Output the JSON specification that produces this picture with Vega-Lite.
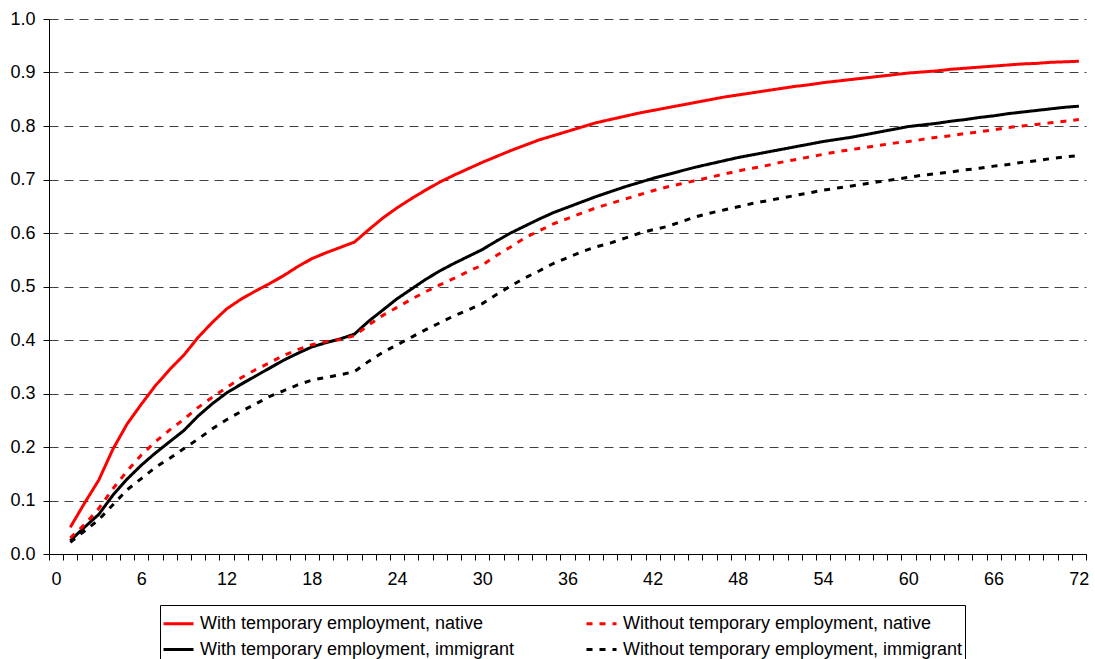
{
"$schema":"https://vega.github.io/schema/vega-lite/v6.json",
"width":1037,"height":535,
"autosize":{"type":"none"},
"padding":{"left":49,"top":19,"right":9,"bottom":105},
"background":"white",
"config":{"view":{"stroke":null},
"axis":{"labelFont":"Liberation Sans","labelFontSize":18,"labelColor":"black","tickColor":"black","domainColor":"black","tickSize":6,"domainWidth":1,"tickWidth":1,"titleFont":"Liberation Sans"},
"legend":{"labelFont":"Liberation Sans","labelFontSize":18,"labelColor":"black","labelLimit":0}},
"data":{"values":[
{"m":1,"s":"With temporary employment, native","v":0.050},{"m":2,"s":"With temporary employment, native","v":0.095},{"m":3,"s":"With temporary employment, native","v":0.138},{"m":4,"s":"With temporary employment, native","v":0.196},{"m":5,"s":"With temporary employment, native","v":0.243},{"m":6,"s":"With temporary employment, native","v":0.280},{"m":7,"s":"With temporary employment, native","v":0.315},{"m":8,"s":"With temporary employment, native","v":0.345},{"m":9,"s":"With temporary employment, native","v":0.372},{"m":10,"s":"With temporary employment, native","v":0.405},
{"m":11,"s":"With temporary employment, native","v":0.433},{"m":12,"s":"With temporary employment, native","v":0.458},{"m":13,"s":"With temporary employment, native","v":0.476},{"m":14,"s":"With temporary employment, native","v":0.491},{"m":15,"s":"With temporary employment, native","v":0.505},{"m":16,"s":"With temporary employment, native","v":0.520},{"m":17,"s":"With temporary employment, native","v":0.537},{"m":18,"s":"With temporary employment, native","v":0.552},{"m":19,"s":"With temporary employment, native","v":0.563},{"m":20,"s":"With temporary employment, native","v":0.573},
{"m":21,"s":"With temporary employment, native","v":0.583},{"m":22,"s":"With temporary employment, native","v":0.606},{"m":23,"s":"With temporary employment, native","v":0.628},{"m":24,"s":"With temporary employment, native","v":0.647},{"m":25,"s":"With temporary employment, native","v":0.664},{"m":26,"s":"With temporary employment, native","v":0.680},{"m":27,"s":"With temporary employment, native","v":0.695},{"m":28,"s":"With temporary employment, native","v":0.708},{"m":29,"s":"With temporary employment, native","v":0.720},{"m":30,"s":"With temporary employment, native","v":0.732},
{"m":31,"s":"With temporary employment, native","v":0.743},{"m":32,"s":"With temporary employment, native","v":0.754},{"m":33,"s":"With temporary employment, native","v":0.764},{"m":34,"s":"With temporary employment, native","v":0.774},{"m":35,"s":"With temporary employment, native","v":0.782},{"m":36,"s":"With temporary employment, native","v":0.790},{"m":37,"s":"With temporary employment, native","v":0.798},{"m":38,"s":"With temporary employment, native","v":0.806},{"m":39,"s":"With temporary employment, native","v":0.812},{"m":40,"s":"With temporary employment, native","v":0.818},
{"m":41,"s":"With temporary employment, native","v":0.824},{"m":42,"s":"With temporary employment, native","v":0.829},{"m":43,"s":"With temporary employment, native","v":0.834},{"m":44,"s":"With temporary employment, native","v":0.839},{"m":45,"s":"With temporary employment, native","v":0.844},{"m":46,"s":"With temporary employment, native","v":0.849},{"m":47,"s":"With temporary employment, native","v":0.854},{"m":48,"s":"With temporary employment, native","v":0.858},{"m":49,"s":"With temporary employment, native","v":0.862},{"m":50,"s":"With temporary employment, native","v":0.866},
{"m":51,"s":"With temporary employment, native","v":0.870},{"m":52,"s":"With temporary employment, native","v":0.874},{"m":53,"s":"With temporary employment, native","v":0.877},{"m":54,"s":"With temporary employment, native","v":0.881},{"m":55,"s":"With temporary employment, native","v":0.884},{"m":56,"s":"With temporary employment, native","v":0.887},{"m":57,"s":"With temporary employment, native","v":0.890},{"m":58,"s":"With temporary employment, native","v":0.893},{"m":59,"s":"With temporary employment, native","v":0.896},{"m":60,"s":"With temporary employment, native","v":0.899},
{"m":61,"s":"With temporary employment, native","v":0.901},{"m":62,"s":"With temporary employment, native","v":0.903},{"m":63,"s":"With temporary employment, native","v":0.906},{"m":64,"s":"With temporary employment, native","v":0.908},{"m":65,"s":"With temporary employment, native","v":0.910},{"m":66,"s":"With temporary employment, native","v":0.912},{"m":67,"s":"With temporary employment, native","v":0.914},{"m":68,"s":"With temporary employment, native","v":0.916},{"m":69,"s":"With temporary employment, native","v":0.917},{"m":70,"s":"With temporary employment, native","v":0.919},
{"m":71,"s":"With temporary employment, native","v":0.920},{"m":72,"s":"With temporary employment, native","v":0.921},

{"m":1,"s":"With temporary employment, immigrant","v":0.025},{"m":2,"s":"With temporary employment, immigrant","v":0.050},{"m":3,"s":"With temporary employment, immigrant","v":0.074},{"m":4,"s":"With temporary employment, immigrant","v":0.110},{"m":5,"s":"With temporary employment, immigrant","v":0.140},{"m":6,"s":"With temporary employment, immigrant","v":0.166},{"m":7,"s":"With temporary employment, immigrant","v":0.189},{"m":8,"s":"With temporary employment, immigrant","v":0.210},{"m":9,"s":"With temporary employment, immigrant","v":0.231},{"m":10,"s":"With temporary employment, immigrant","v":0.258},
{"m":11,"s":"With temporary employment, immigrant","v":0.281},{"m":12,"s":"With temporary employment, immigrant","v":0.301},{"m":13,"s":"With temporary employment, immigrant","v":0.317},{"m":14,"s":"With temporary employment, immigrant","v":0.332},{"m":15,"s":"With temporary employment, immigrant","v":0.347},{"m":16,"s":"With temporary employment, immigrant","v":0.362},{"m":17,"s":"With temporary employment, immigrant","v":0.375},{"m":18,"s":"With temporary employment, immigrant","v":0.387},{"m":19,"s":"With temporary employment, immigrant","v":0.395},{"m":20,"s":"With temporary employment, immigrant","v":0.402},
{"m":21,"s":"With temporary employment, immigrant","v":0.411},{"m":22,"s":"With temporary employment, immigrant","v":0.435},{"m":23,"s":"With temporary employment, immigrant","v":0.456},{"m":24,"s":"With temporary employment, immigrant","v":0.477},{"m":25,"s":"With temporary employment, immigrant","v":0.495},{"m":26,"s":"With temporary employment, immigrant","v":0.513},{"m":27,"s":"With temporary employment, immigrant","v":0.529},{"m":28,"s":"With temporary employment, immigrant","v":0.543},{"m":29,"s":"With temporary employment, immigrant","v":0.556},{"m":30,"s":"With temporary employment, immigrant","v":0.569},
{"m":31,"s":"With temporary employment, immigrant","v":0.585},{"m":32,"s":"With temporary employment, immigrant","v":0.600},{"m":33,"s":"With temporary employment, immigrant","v":0.613},{"m":34,"s":"With temporary employment, immigrant","v":0.626},{"m":35,"s":"With temporary employment, immigrant","v":0.638},{"m":36,"s":"With temporary employment, immigrant","v":0.648},{"m":37,"s":"With temporary employment, immigrant","v":0.658},{"m":38,"s":"With temporary employment, immigrant","v":0.668},{"m":39,"s":"With temporary employment, immigrant","v":0.677},{"m":40,"s":"With temporary employment, immigrant","v":0.686},
{"m":41,"s":"With temporary employment, immigrant","v":0.694},{"m":42,"s":"With temporary employment, immigrant","v":0.702},{"m":43,"s":"With temporary employment, immigrant","v":0.709},{"m":44,"s":"With temporary employment, immigrant","v":0.716},{"m":45,"s":"With temporary employment, immigrant","v":0.723},{"m":46,"s":"With temporary employment, immigrant","v":0.729},{"m":47,"s":"With temporary employment, immigrant","v":0.735},{"m":48,"s":"With temporary employment, immigrant","v":0.741},{"m":49,"s":"With temporary employment, immigrant","v":0.746},{"m":50,"s":"With temporary employment, immigrant","v":0.751},
{"m":51,"s":"With temporary employment, immigrant","v":0.756},{"m":52,"s":"With temporary employment, immigrant","v":0.761},{"m":53,"s":"With temporary employment, immigrant","v":0.766},{"m":54,"s":"With temporary employment, immigrant","v":0.771},{"m":55,"s":"With temporary employment, immigrant","v":0.775},{"m":56,"s":"With temporary employment, immigrant","v":0.779},{"m":57,"s":"With temporary employment, immigrant","v":0.784},{"m":58,"s":"With temporary employment, immigrant","v":0.789},{"m":59,"s":"With temporary employment, immigrant","v":0.794},{"m":60,"s":"With temporary employment, immigrant","v":0.799},
{"m":61,"s":"With temporary employment, immigrant","v":0.802},{"m":62,"s":"With temporary employment, immigrant","v":0.805},{"m":63,"s":"With temporary employment, immigrant","v":0.809},{"m":64,"s":"With temporary employment, immigrant","v":0.812},{"m":65,"s":"With temporary employment, immigrant","v":0.816},{"m":66,"s":"With temporary employment, immigrant","v":0.819},{"m":67,"s":"With temporary employment, immigrant","v":0.823},{"m":68,"s":"With temporary employment, immigrant","v":0.826},{"m":69,"s":"With temporary employment, immigrant","v":0.829},{"m":70,"s":"With temporary employment, immigrant","v":0.832},
{"m":71,"s":"With temporary employment, immigrant","v":0.835},{"m":72,"s":"With temporary employment, immigrant","v":0.837},

{"m":1,"s":"Without temporary employment, native","v":0.030},{"m":2,"s":"Without temporary employment, native","v":0.055},{"m":3,"s":"Without temporary employment, native","v":0.085},{"m":4,"s":"Without temporary employment, native","v":0.122},{"m":5,"s":"Without temporary employment, native","v":0.155},{"m":6,"s":"Without temporary employment, native","v":0.185},{"m":7,"s":"Without temporary employment, native","v":0.210},{"m":8,"s":"Without temporary employment, native","v":0.232},{"m":9,"s":"Without temporary employment, native","v":0.252},{"m":10,"s":"Without temporary employment, native","v":0.274},
{"m":11,"s":"Without temporary employment, native","v":0.293},{"m":12,"s":"Without temporary employment, native","v":0.311},{"m":13,"s":"Without temporary employment, native","v":0.329},{"m":14,"s":"Without temporary employment, native","v":0.344},{"m":15,"s":"Without temporary employment, native","v":0.357},{"m":16,"s":"Without temporary employment, native","v":0.371},{"m":17,"s":"Without temporary employment, native","v":0.382},{"m":18,"s":"Without temporary employment, native","v":0.391},{"m":19,"s":"Without temporary employment, native","v":0.397},{"m":20,"s":"Without temporary employment, native","v":0.401},
{"m":21,"s":"Without temporary employment, native","v":0.408},{"m":22,"s":"Without temporary employment, native","v":0.428},{"m":23,"s":"Without temporary employment, native","v":0.446},{"m":24,"s":"Without temporary employment, native","v":0.461},{"m":25,"s":"Without temporary employment, native","v":0.476},{"m":26,"s":"Without temporary employment, native","v":0.490},{"m":27,"s":"Without temporary employment, native","v":0.503},{"m":28,"s":"Without temporary employment, native","v":0.515},{"m":29,"s":"Without temporary employment, native","v":0.528},{"m":30,"s":"Without temporary employment, native","v":0.540},
{"m":31,"s":"Without temporary employment, native","v":0.558},{"m":32,"s":"Without temporary employment, native","v":0.574},{"m":33,"s":"Without temporary employment, native","v":0.591},{"m":34,"s":"Without temporary employment, native","v":0.604},{"m":35,"s":"Without temporary employment, native","v":0.617},{"m":36,"s":"Without temporary employment, native","v":0.627},{"m":37,"s":"Without temporary employment, native","v":0.637},{"m":38,"s":"Without temporary employment, native","v":0.647},{"m":39,"s":"Without temporary employment, native","v":0.655},{"m":40,"s":"Without temporary employment, native","v":0.663},
{"m":41,"s":"Without temporary employment, native","v":0.671},{"m":42,"s":"Without temporary employment, native","v":0.679},{"m":43,"s":"Without temporary employment, native","v":0.686},{"m":44,"s":"Without temporary employment, native","v":0.692},{"m":45,"s":"Without temporary employment, native","v":0.698},{"m":46,"s":"Without temporary employment, native","v":0.704},{"m":47,"s":"Without temporary employment, native","v":0.710},{"m":48,"s":"Without temporary employment, native","v":0.716},{"m":49,"s":"Without temporary employment, native","v":0.721},{"m":50,"s":"Without temporary employment, native","v":0.726},
{"m":51,"s":"Without temporary employment, native","v":0.732},{"m":52,"s":"Without temporary employment, native","v":0.737},{"m":53,"s":"Without temporary employment, native","v":0.742},{"m":54,"s":"Without temporary employment, native","v":0.747},{"m":55,"s":"Without temporary employment, native","v":0.752},{"m":56,"s":"Without temporary employment, native","v":0.756},{"m":57,"s":"Without temporary employment, native","v":0.760},{"m":58,"s":"Without temporary employment, native","v":0.764},{"m":59,"s":"Without temporary employment, native","v":0.768},{"m":60,"s":"Without temporary employment, native","v":0.771},
{"m":61,"s":"Without temporary employment, native","v":0.775},{"m":62,"s":"Without temporary employment, native","v":0.779},{"m":63,"s":"Without temporary employment, native","v":0.782},{"m":64,"s":"Without temporary employment, native","v":0.786},{"m":65,"s":"Without temporary employment, native","v":0.789},{"m":66,"s":"Without temporary employment, native","v":0.793},{"m":67,"s":"Without temporary employment, native","v":0.797},{"m":68,"s":"Without temporary employment, native","v":0.800},{"m":69,"s":"Without temporary employment, native","v":0.803},{"m":70,"s":"Without temporary employment, native","v":0.806},
{"m":71,"s":"Without temporary employment, native","v":0.809},{"m":72,"s":"Without temporary employment, native","v":0.812},

{"m":1,"s":"Without temporary employment, immigrant","v":0.022},{"m":2,"s":"Without temporary employment, immigrant","v":0.043},{"m":3,"s":"Without temporary employment, immigrant","v":0.064},{"m":4,"s":"Without temporary employment, immigrant","v":0.092},{"m":5,"s":"Without temporary employment, immigrant","v":0.120},{"m":6,"s":"Without temporary employment, immigrant","v":0.141},{"m":7,"s":"Without temporary employment, immigrant","v":0.162},{"m":8,"s":"Without temporary employment, immigrant","v":0.179},{"m":9,"s":"Without temporary employment, immigrant","v":0.197},{"m":10,"s":"Without temporary employment, immigrant","v":0.215},
{"m":11,"s":"Without temporary employment, immigrant","v":0.234},{"m":12,"s":"Without temporary employment, immigrant","v":0.251},{"m":13,"s":"Without temporary employment, immigrant","v":0.266},{"m":14,"s":"Without temporary employment, immigrant","v":0.280},{"m":15,"s":"Without temporary employment, immigrant","v":0.294},{"m":16,"s":"Without temporary employment, immigrant","v":0.305},{"m":17,"s":"Without temporary employment, immigrant","v":0.316},{"m":18,"s":"Without temporary employment, immigrant","v":0.325},{"m":19,"s":"Without temporary employment, immigrant","v":0.330},{"m":20,"s":"Without temporary employment, immigrant","v":0.335},
{"m":21,"s":"Without temporary employment, immigrant","v":0.341},{"m":22,"s":"Without temporary employment, immigrant","v":0.360},{"m":23,"s":"Without temporary employment, immigrant","v":0.377},{"m":24,"s":"Without temporary employment, immigrant","v":0.391},{"m":25,"s":"Without temporary employment, immigrant","v":0.405},{"m":26,"s":"Without temporary employment, immigrant","v":0.419},{"m":27,"s":"Without temporary employment, immigrant","v":0.432},{"m":28,"s":"Without temporary employment, immigrant","v":0.445},{"m":29,"s":"Without temporary employment, immigrant","v":0.456},{"m":30,"s":"Without temporary employment, immigrant","v":0.468},
{"m":31,"s":"Without temporary employment, immigrant","v":0.485},{"m":32,"s":"Without temporary employment, immigrant","v":0.501},{"m":33,"s":"Without temporary employment, immigrant","v":0.516},{"m":34,"s":"Without temporary employment, immigrant","v":0.529},{"m":35,"s":"Without temporary employment, immigrant","v":0.543},{"m":36,"s":"Without temporary employment, immigrant","v":0.554},{"m":37,"s":"Without temporary employment, immigrant","v":0.565},{"m":38,"s":"Without temporary employment, immigrant","v":0.574},{"m":39,"s":"Without temporary employment, immigrant","v":0.581},{"m":40,"s":"Without temporary employment, immigrant","v":0.590},
{"m":41,"s":"Without temporary employment, immigrant","v":0.599},{"m":42,"s":"Without temporary employment, immigrant","v":0.606},{"m":43,"s":"Without temporary employment, immigrant","v":0.612},{"m":44,"s":"Without temporary employment, immigrant","v":0.621},{"m":45,"s":"Without temporary employment, immigrant","v":0.630},{"m":46,"s":"Without temporary employment, immigrant","v":0.637},{"m":47,"s":"Without temporary employment, immigrant","v":0.643},{"m":48,"s":"Without temporary employment, immigrant","v":0.649},{"m":49,"s":"Without temporary employment, immigrant","v":0.655},{"m":50,"s":"Without temporary employment, immigrant","v":0.660},
{"m":51,"s":"Without temporary employment, immigrant","v":0.665},{"m":52,"s":"Without temporary employment, immigrant","v":0.670},{"m":53,"s":"Without temporary employment, immigrant","v":0.675},{"m":54,"s":"Without temporary employment, immigrant","v":0.680},{"m":55,"s":"Without temporary employment, immigrant","v":0.684},{"m":56,"s":"Without temporary employment, immigrant","v":0.688},{"m":57,"s":"Without temporary employment, immigrant","v":0.692},{"m":58,"s":"Without temporary employment, immigrant","v":0.696},{"m":59,"s":"Without temporary employment, immigrant","v":0.700},{"m":60,"s":"Without temporary employment, immigrant","v":0.704},
{"m":61,"s":"Without temporary employment, immigrant","v":0.708},{"m":62,"s":"Without temporary employment, immigrant","v":0.711},{"m":63,"s":"Without temporary employment, immigrant","v":0.714},{"m":64,"s":"Without temporary employment, immigrant","v":0.718},{"m":65,"s":"Without temporary employment, immigrant","v":0.721},{"m":66,"s":"Without temporary employment, immigrant","v":0.725},{"m":67,"s":"Without temporary employment, immigrant","v":0.728},{"m":68,"s":"Without temporary employment, immigrant","v":0.732},{"m":69,"s":"Without temporary employment, immigrant","v":0.735},{"m":70,"s":"Without temporary employment, immigrant","v":0.739},
{"m":71,"s":"Without temporary employment, immigrant","v":0.742},{"m":72,"s":"Without temporary employment, immigrant","v":0.745}
]},
"mark":{"type":"line","strokeWidth":3,"strokeCap":"butt","clip":false},
"encoding":{
"x":{"field":"m","type":"quantitative","scale":{"domain":[-0.5,72.5],"nice":false,"zero":false},
"axis":{"title":null,"grid":false,"values":[-0.5,0.5,1.5,2.5,3.5,4.5,5.5,6.5,7.5,8.5,9.5,10.5,11.5,12.5,13.5,14.5,15.5,16.5,17.5,18.5,19.5,20.5,21.5,22.5,23.5,24.5,25.5,26.5,27.5,28.5,29.5,30.5,31.5,32.5,33.5,34.5,35.5,36.5,37.5,38.5,39.5,40.5,41.5,42.5,43.5,44.5,45.5,46.5,47.5,48.5,49.5,50.5,51.5,52.5,53.5,54.5,55.5,56.5,57.5,58.5,59.5,60.5,61.5,62.5,63.5,64.5,65.5,66.5,67.5,68.5,69.5,70.5,71.5,72.5],
"labelExpr":"(datum.value + 0.5) % 6 == 0 ? format(datum.value + 0.5, 'd') : ''","labelOffset":7,"labelOverlap":false,"labelFlush":false,"labelBound":false,"labelPadding":10}},
"y":{"field":"v","type":"quantitative","scale":{"domain":[0,1],"nice":false},
"axis":{"title":null,"values":[0,0.1,0.2,0.3,0.4,0.5,0.6,0.7,0.8,0.9,1.0],"format":".1f","grid":true,"gridColor":"#404040","gridDash":[9,6],"gridWidth":1,"gridOpacity":1,"labelPadding":8}},
"color":{"field":"s","type":"nominal","scale":{"domain":["With temporary employment, native","With temporary employment, immigrant","Without temporary employment, native","Without temporary employment, immigrant"],"range":["#ff0000","#000000","#ff0000","#000000"]},
"legend":{"title":null,"orient":"none","legendX":111,"legendY":586,"columns":2,"gridAlign":"all","columnPadding":40,"rowPadding":-4,"padding":2,"strokeColor":"black","fillColor":"white","symbolType":"stroke","symbolSize":900,"symbolStrokeWidth":3,"labelOffset":5}},
"strokeDash":{"field":"s","type":"nominal","scale":{"domain":["With temporary employment, native","With temporary employment, immigrant","Without temporary employment, native","Without temporary employment, immigrant"],"range":[[1,0],[1,0],[6,7],[6,7]]},
"legend":{"title":null,"orient":"none","legendX":111,"legendY":586,"columns":2,"gridAlign":"all","columnPadding":40,"rowPadding":-4,"padding":2,"strokeColor":"black","fillColor":"white","symbolType":"stroke","symbolSize":900,"symbolStrokeWidth":3,"labelOffset":5}},
"order":{"field":"m","type":"quantitative"}
}
}
